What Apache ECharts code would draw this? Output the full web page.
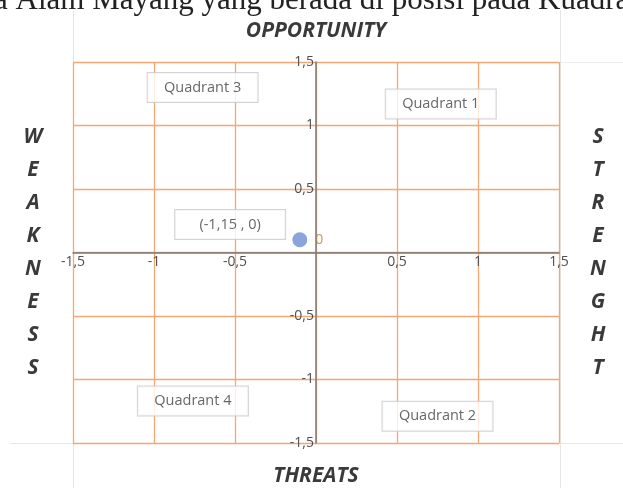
<!DOCTYPE html>
<html>
<head>
<meta charset="utf-8">
<script src="https://cdn.jsdelivr.net/npm/echarts@6/dist/echarts.min.js"></script>
<style>
  html, body { margin: 0; padding: 0; background: #fff; }
  #chart { width: 623px; height: 488px; }
</style>
</head>
<body>
<div id="chart"></div>
<script>
document.addEventListener("DOMContentLoaded", function () {

    // axis ticks
    var axisTicks = [-1.5, -1, -0.5, 0, 0.5, 1, 1.5];

    // the position point
    var pointX = [-0.1];
    var pointY = [0.1];
    var pointLabels = ['0'];

    // text boxes on the chart
    var boxNames = ['Quadrant 3', 'Quadrant 1', 'Quadrant 4', 'Quadrant 2', '(-1,15 , 0)'];
    var boxX = [-0.70, 0.77, -0.76, 0.75, -0.53];
    var boxY = [1.30, 1.17, -1.17, -1.29, 0.22];

    var sideLeft = 'WEAKNESS';
    var sideRight = 'STRENGHT';

    var chart = echarts.init(document.getElementById('chart'));

    function fmt(v) {
        if (v === 0) return '';
        return String(v).replace('.', ',');
    }

    var gridColor = '#f4a772';
    var axisColor = '#7a7a7a';
    var labelFont = 'Open Sans';
    var titleFont = 'italic bold 21px "Open Sans"';

    // plot box in pixels: 73..559 wide, 62..443 tall
    var plotW = 486, plotH = 381;

    var option = {
      animation: false,
      backgroundColor: '#fff',
      grid: { left: 73, right: 64, top: 62, bottom: 45, containLabel: false },
      xAxis: {
        type: 'value',
        position: 'bottom',
        offset: -plotH / 2,
        min: axisTicks[0],
        max: axisTicks[axisTicks.length - 1],
        interval: 0.5,
        axisLine: { onZero: false, lineStyle: { color: axisColor, width: 1.5 } },
        axisTick: { show: false },
        axisLabel: {
          formatter: fmt,
          color: '#505050',
          fontFamily: labelFont,
          fontSize: 14,
          margin: 3
        },
        splitLine: { show: true, lineStyle: { color: gridColor, width: 1.3 } }
      },
      yAxis: {
        type: 'value',
        position: 'left',
        offset: -plotW / 2,
        min: axisTicks[0],
        max: axisTicks[axisTicks.length - 1],
        interval: 0.5,
        axisLine: { onZero: false, lineStyle: { color: axisColor, width: 1.5 } },
        axisTick: { show: false },
        axisLabel: {
          formatter: fmt,
          color: '#505050',
          fontFamily: labelFont,
          fontSize: 14,
          margin: 2
        },
        splitLine: { show: true, lineStyle: { color: gridColor, width: 1.3 } }
      },
      series: [
        {
          type: 'scatter',
          symbolSize: 15,
          itemStyle: { color: '#6d8fd3' },
          label: {
            show: true,
            position: 'right',
            distance: 8,
            formatter: function (p) { return pointLabels[p.dataIndex]; },
            color: '#b9803f',
            fontFamily: labelFont,
            fontSize: 14
          },
          data: pointX.map(function (x, i) { return [x, pointY[i]]; }),
          z: 5
        },
        {
          type: 'scatter',
          symbolSize: 0,
          silent: true,
          label: {
            show: true,
            position: 'inside',
            formatter: function (p) { return boxNames[p.dataIndex]; },
            color: '#404040',
            fontFamily: labelFont,
            fontSize: 14.5,
            backgroundColor: '#fff',
            borderColor: '#c8c8c8',
            borderWidth: 1,
            width: 82,
            align: 'center',
            padding: [7, 14, 7, 14]
          },
          data: boxX.map(function (x, i) { return [x, boxY[i]]; }),
          z: 6
        }
      ],
      graphic: [
        // faint page frame lines
        { type: 'line', shape: { x1: 73.5, y1: 10, x2: 73.5, y2: 488 }, style: { stroke: '#e6e6e6', lineWidth: 1 }, z: -10 },
        { type: 'line', shape: { x1: 560.5, y1: 10, x2: 560.5, y2: 488 }, style: { stroke: '#e6e6e6', lineWidth: 1 }, z: -10 },
        { type: 'line', shape: { x1: 10, y1: 443.5, x2: 623, y2: 443.5 }, style: { stroke: '#e6e6e6', lineWidth: 1 }, z: -10 },
        { type: 'line', shape: { x1: 560, y1: 62.5, x2: 623, y2: 62.5 }, style: { stroke: '#ececec', lineWidth: 1 }, z: -10 },
        {
          type: 'text', x: -6, y: 1,
          style: {
            text: 'a Alam Mayang yang berada di posisi pada Kuadran',
            textVerticalAlign: 'middle',
            font: '31px "Liberation Serif"',
            fill: '#222'
          }
        },
        {
          type: 'text', x: 316, y: 31,
          style: {
            text: 'OPPORTUNITY', textAlign: 'center', textVerticalAlign: 'middle',
            font: titleFont, fill: '#3a3a3a'
          }
        },
        {
          type: 'text', x: 316, y: 476,
          style: {
            text: 'THREATS', textAlign: 'center', textVerticalAlign: 'middle',
            font: titleFont, fill: '#3a3a3a'
          }
        },
        {
          type: 'text', x: 33, y: 253,
          style: {
            text: sideLeft.split('').join('\n'), textAlign: 'center', textVerticalAlign: 'middle',
            font: titleFont, lineHeight: 33, fill: '#3a3a3a'
          }
        },
        {
          type: 'text', x: 598, y: 253,
          style: {
            text: sideRight.split('').join('\n'), textAlign: 'center', textVerticalAlign: 'middle',
            font: titleFont, lineHeight: 33, fill: '#3a3a3a'
          }
        }
      ]
    };

    chart.setOption(option);
});
</script>
</body>
</html>
